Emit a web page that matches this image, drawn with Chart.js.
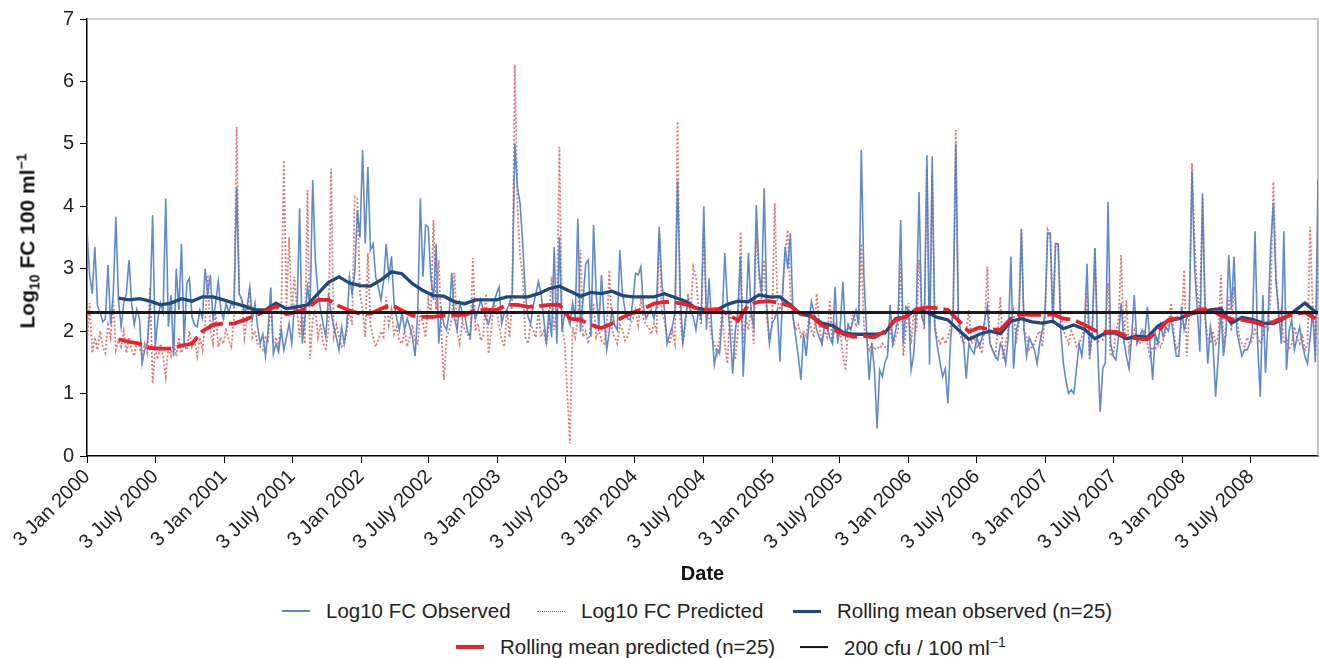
<!DOCTYPE html>
<html>
<head>
<meta charset="utf-8">
<script src="https://cdn.jsdelivr.net/npm/chart.js@4.4.1/dist/chart.umd.min.js"></script>
<style>
  body { margin: 0; background: #fff; font-family: "Liberation Sans", Arial, sans-serif; color: #222; }
  #wrap { position: relative; width: 1319px; height: 658px; overflow: hidden; }
  #chart { position: absolute; left: 0; top: 0; }
  #ytitle { position: absolute; left: 28px; top: 241px; transform: translate(-50%, -50%) rotate(-90deg);
            white-space: nowrap; font-weight: bold; font-size: 21px; color: #111; }
  #ytitle sub, #ytitle sup { font-size: 14px; }
  .lg { position: absolute; display: flex; align-items: center; font-size: 20.5px; white-space: nowrap; transform: translateY(-50%); }
  .lg i { display: inline-block; width: 28px; margin-right: 16px; }
  .lg sup { font-size: 14px; }
</style>
</head>
<body>
<div id="wrap">
  <canvas id="chart" width="1319" height="590"></canvas>
  <div id="ytitle">Log<sub>10</sub> FC 100 ml<sup>&minus;1</sup></div>
  <div class="lg" style="left:282px;top:611px"><i style="border-top:2px solid #5a88cc"></i><span>Log10 FC Observed</span></div>
  <div class="lg" style="left:537px;top:611px"><i style="border-top:1.5px dotted #c8554b"></i><span>Log10 FC Predicted</span></div>
  <div class="lg" style="left:793px;top:611px"><i style="border-top:3.5px solid #1f497d"></i><span>Rolling mean observed (n=25)</span></div>
  <div class="lg" style="left:456px;top:647px"><i style="border-top:4px solid #ee2026"></i><span>Rolling mean predicted (n=25)</span></div>
  <div class="lg" style="left:800px;top:647px"><i style="border-top:2.5px solid #111"></i><span>200 cfu / 100 ml<sup>&minus;1</sup></span></div>
</div>
<script>
// weekly samples, week 0 = 3 Jan 2000
const observed = [
  3.6,2.9,2.6,3.35,2.4,2.3,2.15,2.2,3.06,2.1,
  2.6,3.83,2.5,2.07,2.45,2.6,3.14,2.45,2.1,2.35,
  2.2,1.48,1.7,1.8,2.4,3.86,1.75,2.2,2.45,2.3,
  4.13,2.07,2.58,1.6,3.0,2.34,3.4,1.8,2.76,2.85,
  2.23,2.1,2.07,2.34,2.2,3.0,2.6,2.9,2.18,2.45,
  2.8,2.34,2.2,2.45,2.3,2.45,2.4,4.3,2.6,2.5,
  2.3,2.39,2.7,2.2,2.45,2.07,1.8,1.95,1.6,2.02,
  2.7,1.64,1.8,1.67,2.02,1.7,1.9,2.12,1.8,2.4,
  2.3,3.97,1.8,2.2,2.7,2.4,4.42,3.14,2.6,2.34,
  2.1,1.91,2.6,2.3,2.07,1.9,1.7,2.07,1.8,2.1,
  2.87,2.6,2.92,3.94,3.5,4.9,3.4,4.63,3.3,3.4,
  2.87,2.7,2.5,2.8,3.4,2.87,3.2,2.45,2.2,2.02,
  2.3,2.02,2.2,2.07,1.9,1.6,2.3,4.13,2.87,3.7,
  3.67,2.87,2.5,3.4,1.8,2.34,2.1,2.02,2.3,2.93,
  2.2,2.02,2.45,2.3,2.23,2.0,1.91,2.45,2.2,2.34,
  2.5,2.34,2.2,2.12,2.3,2.45,2.6,2.71,
  2.12,2.3,2.34,2.45,2.6,5.0,4.3,4.05,3.4,2.6,
  2.23,2.12,2.4,2.6,2.79,2.6,2.2,1.8,2.34,1.9,
  3.35,1.8,3.51,1.99,2.3,2.23,2.1,2.45,2.2,3.8,
  1.99,2.5,3.08,3.14,1.91,3.7,2.6,2.07,2.9,2.23,
  1.7,2.0,2.34,2.1,2.02,3.3,2.6,2.34,2.2,2.18,
  2.5,2.93,2.9,3.03,2.39,2.2,2.3,2.34,2.2,2.4,
  3.67,2.8,2.34,1.8,1.95,2.07,2.3,4.4,2.6,1.8,
  2.2,2.5,2.3,2.23,2.02,2.34,2.2,4.0,
  2.02,2.85,2.07,1.46,1.7,1.64,2.2,3.25,2.45,2.0,
  1.32,2.0,2.34,3.2,1.27,2.2,3.25,2.3,2.07,4.02,
  3.0,2.6,4.29,2.4,1.8,2.12,2.2,2.34,1.51,2.6,
  3.35,3.0,3.57,2.23,1.91,1.6,1.22,1.96,1.6,2.1,
  2.47,2.3,2.02,1.9,1.8,2.1,2.07,1.9,1.8,2.71,
  1.8,2.1,2.79,1.91,2.1,2.02,2.2,2.34,2.1,4.9,
  2.87,2.0,1.22,1.8,1.4,0.44,1.38,1.27,1.5,1.6,
  2.42,1.8,2.0,2.2,3.78,1.8,2.39,2.34,
  1.38,1.64,2.4,4.23,2.23,2.12,4.82,1.46,4.8,2.07,
  1.75,1.5,1.27,1.4,0.84,1.86,2.3,5.0,2.18,2.0,
  1.8,1.24,1.8,1.7,1.64,1.9,1.75,1.9,2.18,2.4,
  1.8,1.7,1.6,1.54,1.8,1.7,1.48,1.9,3.19,1.4,
  2.0,2.18,3.62,2.02,1.6,1.9,1.8,1.7,1.48,1.8,
  2.02,2.3,3.57,3.57,2.12,3.4,3.4,2.0,1.48,1.2,
  1.0,1.06,1.0,1.4,1.8,1.6,2.0,3.08,1.6,2.0,
  3.33,1.8,0.71,1.4,1.5,4.07,1.8,1.6,
  1.54,1.9,2.45,1.86,1.6,1.4,1.9,2.58,1.8,1.9,
  2.02,1.9,2.39,1.8,1.22,1.96,1.8,2.1,1.91,2.07,
  2.0,2.23,1.9,1.6,1.6,2.39,2.02,2.2,2.34,4.55,
  3.0,2.34,1.67,4.21,2.34,1.48,2.07,1.8,0.95,1.6,
  2.34,1.6,2.0,3.22,2.34,3.19,2.02,1.8,1.6,1.7,
  1.7,1.8,2.0,3.6,1.8,0.95,2.58,1.33,2.2,3.4,
  4.05,2.8,2.34,1.8,3.6,1.38,2.0,2.18,1.7,1.9,
  2.07,1.8,1.6,1.48,1.9,2.34,1.5,4.45
];

const predicted = [
  1.8,2.45,1.65,1.9,1.7,2.0,1.75,1.65,2.1,1.9,
  2.5,1.7,1.85,1.75,2.0,1.65,1.9,1.7,1.6,1.85,
  1.75,1.6,1.8,1.65,2.7,1.16,1.7,1.55,1.8,1.6,
  1.27,1.75,1.6,1.85,1.6,1.9,1.65,1.8,1.7,2.0,
  1.75,1.85,1.6,1.9,1.7,2.1,2.9,2.0,1.8,2.3,
  1.75,1.9,1.8,2.05,1.85,1.75,2.2,5.27,2.6,2.5,
  1.9,2.2,2.7,1.9,2.0,1.8,1.75,1.7,1.9,1.85,
  2.45,1.8,1.9,1.75,2.2,4.74,2.4,3.5,2.3,2.87,
  2.34,1.9,2.34,1.8,4.26,1.56,2.2,2.34,1.9,2.12,
  1.8,1.72,2.0,4.6,1.91,2.1,1.91,1.75,1.8,2.0,
  2.34,2.1,4.15,4.12,2.6,2.34,1.9,3.25,2.1,1.91,
  1.75,1.86,2.0,1.91,2.55,2.1,2.34,1.95,2.07,1.85,
  1.8,2.0,1.75,1.91,2.1,1.85,1.8,2.3,2.12,1.9,
  2.5,2.2,3.78,2.34,3.14,2.0,1.22,1.9,2.02,2.2,
  2.93,1.99,1.8,2.18,2.0,1.96,1.85,3.17,2.0,2.12,
  1.85,1.91,2.6,1.64,2.0,2.45,2.34,2.1,
  1.86,1.75,2.34,1.9,2.5,6.26,4.0,3.2,2.87,1.9,
  1.8,2.1,2.02,1.9,2.34,1.91,2.0,1.8,2.1,2.87,
  2.02,2.3,4.95,2.07,1.8,1.0,0.2,2.07,1.9,2.2,
  3.3,1.91,2.0,1.8,2.1,2.45,1.9,2.02,1.85,1.8,
  2.0,2.98,2.02,1.9,1.8,2.1,2.02,1.85,1.91,2.1,
  2.2,2.34,2.1,2.5,2.2,2.1,2.07,1.95,2.12,2.0,
  3.57,2.3,2.18,1.9,1.8,2.0,1.8,5.36,2.2,1.8,
  2.1,2.6,2.3,3.03,2.87,2.34,2.1,3.67,
  2.34,2.2,1.91,1.8,1.64,1.9,2.34,1.8,1.48,2.34,
  1.9,1.54,2.0,3.59,1.8,2.2,2.02,2.4,1.8,3.57,
  2.87,2.5,3.14,2.2,1.86,2.1,4.05,2.5,2.34,2.6,
  3.3,3.62,2.6,2.18,2.02,2.1,1.91,2.0,1.91,2.2,
  2.02,1.9,2.6,2.1,1.8,2.0,1.9,2.5,1.8,2.1,
  1.9,2.02,1.6,1.37,2.1,2.02,2.34,2.07,2.2,3.4,
  2.07,1.9,1.7,1.8,1.7,1.75,1.72,1.8,1.75,1.7,
  2.12,1.75,1.9,2.0,3.09,1.6,2.0,2.45,
  1.8,2.34,2.0,3.14,2.34,2.02,4.63,2.12,4.5,2.07,
  1.9,1.8,1.91,1.8,1.9,2.07,2.3,5.22,2.02,1.9,
  1.8,2.0,2.34,1.8,1.9,1.75,1.8,1.64,2.1,3.03,
  1.8,1.7,1.6,2.0,2.55,1.54,1.8,2.02,2.2,2.34,
  1.8,2.1,3.65,2.02,1.9,1.7,1.75,1.8,1.94,2.0,
  1.75,2.2,3.62,3.51,2.2,3.4,3.4,2.3,2.02,1.9,
  1.8,2.0,1.91,1.75,1.8,1.9,2.07,2.6,1.54,2.0,
  3.33,1.8,1.9,1.86,2.0,2.77,1.6,1.64,
  1.96,2.2,3.22,1.8,2.5,1.7,1.9,2.02,1.85,1.8,
  1.9,2.02,1.8,1.6,1.75,1.7,1.9,1.75,1.85,2.02,
  2.1,2.45,2.0,1.7,1.8,2.1,2.98,1.6,2.3,4.69,
  3.4,2.6,2.3,4.15,2.18,1.9,1.8,2.0,1.8,1.9,
  2.9,1.8,2.1,2.55,2.0,2.71,2.2,1.91,1.8,1.75,
  1.9,1.8,1.85,2.02,1.9,1.8,1.91,2.1,2.0,2.6,
  4.39,2.87,2.2,2.34,1.8,1.9,1.7,1.8,2.07,1.9,
  1.8,1.95,1.7,1.8,3.67,2.34,1.6,3.5
];

// rolling means read every 4 weeks, starting at week 12
const rollStart = 12;
const rollStep = 4;
const rollObserved = [
  2.53,2.5,2.52,2.48,2.42,2.45,2.52,2.48,2.55,2.55,
  2.5,2.45,2.4,2.34,2.34,2.45,2.36,2.39,2.42,2.6,
  2.78,2.87,2.77,2.73,2.72,2.82,2.95,2.92,2.76,2.65,
  2.57,2.56,2.47,2.44,2.5,2.5,2.5,2.55,2.55,2.55,
  2.6,2.68,2.72,2.64,2.56,2.62,2.6,2.64,2.57,2.55,
  2.55,2.55,2.6,2.54,2.48,2.37,2.34,2.34,2.43,2.48,
  2.47,2.58,2.55,2.55,2.42,2.27,2.24,2.13,2.09,1.98,
  1.95,1.95,1.95,1.97,2.2,2.23,2.35,2.3,2.22,2.18,
  2.02,1.87,1.95,2.0,1.96,2.16,2.2,2.15,2.13,2.16,
  2.04,2.1,2.03,1.88,1.97,1.97,1.88,1.92,1.9,2.08,
  2.17,2.2,2.27,2.31,2.34,2.36,2.13,2.22,2.19,2.13,
  2.12,2.2,2.32,2.45,2.31
];
const rollPredicted = [
  1.87,1.83,1.8,1.73,1.72,1.72,1.77,1.8,2.0,2.1,
  2.12,2.12,2.18,2.25,2.32,2.4,2.27,
  2.31,2.37,2.5,2.5,2.4,2.33,2.28,2.28,2.36,2.42,
  2.33,2.25,2.23,2.23,2.25,2.26,2.26,2.33,2.34,2.34,
  2.42,2.42,2.39,2.4,2.42,2.42,2.2,2.18,2.1,2.05,
  2.12,2.22,2.3,2.36,2.44,2.47,2.46,2.43,2.37,2.34,
  2.35,2.28,2.17,2.42,2.47,2.48,2.45,2.4,2.27,2.24,
  2.09,2.03,1.96,1.91,1.92,1.9,2.0,2.18,2.23,
  2.35,2.38,2.37,2.34,2.17,1.99,2.06,2.03,2.02,2.2,
  2.27,2.26,2.26,2.27,2.2,2.18,2.1,2.01,1.99,1.99,
  1.92,1.88,1.87,2.0,2.18,2.21,2.28,2.35,2.35,2.25,
  2.19,2.18,2.15,2.1,2.15,2.22,2.27,2.3,2.2
];

const guideline = 2.3; // log10(200 cfu / 100 ml)
const lastWeek = 469;

const tickDates = [
  [2000,0],[2000,6],[2001,0],[2001,6],[2002,0],[2002,6],[2003,0],[2003,6],[2004,0],
  [2004,6],[2005,0],[2005,6],[2006,0],[2006,6],[2007,0],[2007,6],[2008,0],[2008,6]
];
const tickLabels = [
  '3 Jan 2000','3 July 2000','3 Jan 2001','3 July 2001','3 Jan 2002','3 July 2002',
  '3 Jan 2003','3 July 2003','3 Jan 2004','3 July 2004','3 Jan 2005','3 July 2005',
  '3 Jan 2006','3 July 2006','3 Jan 2007','3 July 2007','3 Jan 2008','3 July 2008'
];

document.addEventListener('DOMContentLoaded', () => {
    const t0 = Date.UTC(2000, 0, 3);
    const tickWeeks = tickDates.map(d => (Date.UTC(d[0], d[1], 3) - t0) / (7 * 86400000));

    const weekly = arr => arr.map((v, i) => ({ x: i, y: v }));
    const rolling = arr => arr.map((v, i) => ({ x: rollStart + i * rollStep, y: v }));

    // grey frame on top and right of the plot area
    const framePlugin = {
        id: 'frame',
        beforeDatasetsDraw(chart) {
            const a = chart.chartArea;
            const c = chart.ctx;
            c.save();
            c.strokeStyle = '#a0a0a0';
            c.lineWidth = 1.2;
            c.beginPath();
            c.moveTo(a.left, a.top);
            c.lineTo(a.right, a.top);
            c.lineTo(a.right, a.bottom);
            c.stroke();
            c.restore();
        }
    };

    new Chart(document.getElementById('chart'), {
        type: 'line',
        data: {
            datasets: [
                { label: 'Log10 FC Observed', data: weekly(observed), borderColor: 'rgba(78,126,198,0.9)',
                  borderWidth: 1.6, order: 3 },
                { label: 'Log10 FC Predicted', data: weekly(predicted), borderColor: 'rgba(205,90,80,0.8)',
                  borderWidth: 1.8, borderDash: [2, 2], order: 4 },
                { label: 'Rolling mean observed (n=25)', data: rolling(rollObserved), borderColor: '#1f497d',
                  borderWidth: 3.3, order: 2 },
                { label: 'Rolling mean predicted (n=25)', data: rolling(rollPredicted), borderColor: '#ee2026',
                  borderWidth: 3.8, borderDash: [24, 6], order: 1 },
                { label: '200 cfu / 100 ml-1', data: [{ x: 0, y: guideline }, { x: lastWeek, y: guideline }],
                  borderColor: '#1a1a1a', borderWidth: 3, order: 0 }
            ]
        },
        options: {
            responsive: false,
            animation: false,
            devicePixelRatio: 1,
            elements: { point: { radius: 0 }, line: { tension: 0 } },
            layout: { padding: { top: 19, right: 1, left: 0, bottom: 0 } },
            plugins: { legend: { display: false }, tooltip: { enabled: false } },
            scales: {
                x: {
                    type: 'linear',
                    min: 0,
                    max: lastWeek,
                    afterBuildTicks: scale => { scale.ticks = tickWeeks.map(v => ({ value: v })); },
                    afterFit: scale => { scale.height = 134; },
                    ticks: {
                        autoSkip: false,
                        minRotation: 45,
                        maxRotation: 45,
                        padding: 2,
                        color: '#222',
                        font: { family: 'Liberation Sans', size: 20 },
                        callback: (v, i) => tickLabels[i]
                    },
                    grid: { drawOnChartArea: false, drawTicks: true, tickLength: 7, color: '#000' },
                    border: { color: '#000', width: 1.5 },
                    title: { display: true, text: 'Date', color: '#111',
                             font: { family: 'Liberation Sans', size: 20, weight: 'bold' } }
                },
                y: {
                    min: 0,
                    max: 7,
                    afterFit: scale => { scale.width = 87; },
                    ticks: { stepSize: 1, padding: 6, color: '#222',
                             font: { family: 'Liberation Sans', size: 20 } },
                    grid: { drawOnChartArea: false, drawTicks: true, tickLength: 7, color: '#000' },
                    border: { color: '#000', width: 1.5 }
                }
            }
        },
        plugins: [framePlugin]
    });
});
</script>
</body>
</html>
